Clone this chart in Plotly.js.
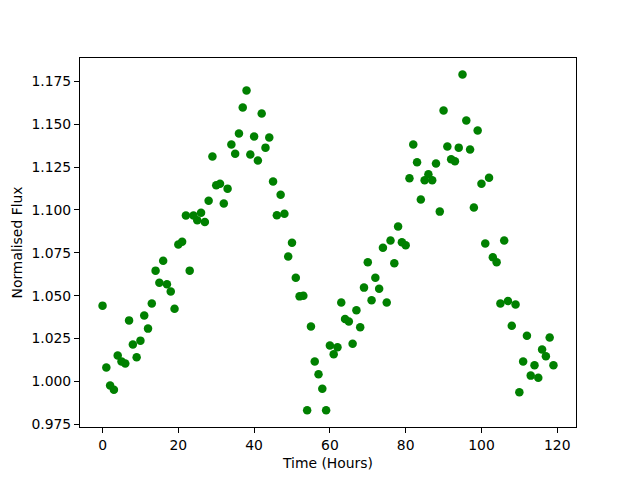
<!DOCTYPE html>
<html>
<head>
<meta charset="utf-8">
<script src="https://cdn.plot.ly/plotly-3.0.1.min.js"></script>
<style>html,body{margin:0;padding:0;background:#fff;}#chart{width:640px;height:480px;}</style>
</head>
<body>
<div id="chart"></div>
<script>
const timeHours = [];
for (let i = 0; i < 120; i++) timeHours.push(i);
const normalisedFlux = [
  1.0442, 1.0082, 0.9976, 0.9952, 1.0151, 1.0117, 1.0104, 1.0356, 1.0215, 1.0141,
  1.0238, 1.0384, 1.0308, 1.0454, 1.0646, 1.0576, 1.0704, 1.0566, 1.0524, 1.0424,
  1.0798, 1.0815, 1.0967, 1.0646, 1.0967, 1.0940, 1.0984, 1.0930, 1.1054, 1.1311,
  1.1144, 1.1153, 1.1037, 1.1124, 1.1381, 1.1328, 1.1445, 1.1597, 1.1696, 1.1323,
  1.1428, 1.1288, 1.1562, 1.1363, 1.1422, 1.1165, 1.0969, 1.1089, 1.0978, 1.0728,
  1.0809, 1.0605, 1.0496, 1.0500, 0.9832, 1.0321, 1.0116, 1.0042, 0.9958, 0.9832,
  1.0209, 1.0158, 1.0199, 1.0460, 1.0364, 1.0349, 1.0220, 1.0415, 1.0316, 1.0547,
  1.0695, 1.0473, 1.0605, 1.0541, 1.0780, 1.0460, 1.0821, 1.0689, 1.0903, 1.0811,
  1.0794, 1.1184, 1.1381, 1.1278, 1.1060, 1.1173, 1.1208, 1.1173, 1.1270, 1.0990,
  1.1579, 1.1369, 1.1295, 1.1284, 1.1363, 1.1789, 1.1521, 1.1352, 1.1014, 1.1463,
  1.1153, 1.0804, 1.1188, 1.0724, 1.0695, 1.0454, 1.0821, 1.0469, 1.0325, 1.0448,
  0.9937, 1.0116, 1.0267, 1.0034, 1.0094, 1.0022, 1.0186, 1.0147, 1.0256, 1.0094
];
const xTickVals = [0, 20, 40, 60, 80, 100, 120];
const yTickVals = [0.975, 1.000, 1.025, 1.050, 1.075, 1.100, 1.125, 1.150, 1.175];

const font = {family: 'DejaVu Sans', size: 13.9, color: '#000'};
const axisCommon = {
  showgrid: false, zeroline: false, showline: true, mirror: true,
  linecolor: '#000', linewidth: 1, ticks: 'outside', ticklen: 5, tickwidth: 1,
  tickcolor: '#000', tickfont: font
};
Plotly.newPlot('chart', [{
  x: timeHours, y: normalisedFlux, type: 'scatter', mode: 'markers',
  marker: {color: '#008000', size: 8.5}
}], {
  width: 640, height: 480,
  margin: {l: 80, r: 64, t: 58, b: 53},
  paper_bgcolor: '#fff', plot_bgcolor: '#fff',
  font: font,
  showlegend: false,
  xaxis: Object.assign({}, axisCommon, {
    range: [-5.95, 124.95], tickvals: xTickVals,
    title: {text: 'Time (Hours)', font: font, standoff: 6}
  }),
  yaxis: Object.assign({}, axisCommon, {
    range: [0.97345, 1.18855], tickvals: yTickVals, tickformat: '.3f',
    title: {text: 'Normalised Flux', font: font, standoff: 5}
  })
}, {staticPlot: true});
</script>
</body>
</html>
